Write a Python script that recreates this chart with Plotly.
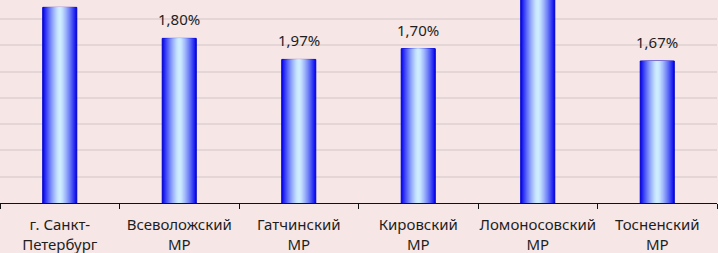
import plotly.graph_objects as go

categories = ["г. Санкт-<br>Петербург", "Всеволожский<br>МР", "Гатчинский<br>МР",
              "Кировский<br>МР", "Ломоносовский<br>МР", "Тосненский<br>МР"]
bar_values = [7.44, 6.26, 5.46, 5.87, 8.6, 5.40]
label_texts = ["", "1,80%", "1,97%", "1,70%", "", "1,67%"]

BG = "#F6E6E6"
GRID = "#E4D6D6"
FONT = "Noto Sans"

dark = (10, 10, 240)
light = (206, 236, 255)
n_layers = 16
full_w = 0.285

fig = go.Figure()
for i in range(n_layers):
    t = i / (n_layers - 1)          # 0 outer -> 1 inner
    w = full_w * (1 - t) + 0.02 * t
    d = 1 - t
    f = d ** 1.3
    col = tuple(round(light[k] + (dark[k] - light[k]) * f) for k in range(3))
    fig.add_trace(go.Bar(
        x=categories, y=bar_values, width=w,
        marker=dict(color="rgb(%d,%d,%d)" % col,
                    line=dict(color="#0000C8", width=1 if i == 0 else 0)),
        hoverinfo="skip", showlegend=False,
    ))

for c, v, s in zip(categories, bar_values, label_texts):
    if s:
        fig.add_annotation(x=c, y=v, text=s, showarrow=False, yanchor="bottom",
                           yshift=7, font=dict(family=FONT, size=15, color="#1E1E1E"))

fig.update_layout(
    width=718, height=253, barmode="overlay",
    margin=dict(l=0, r=1, t=0, b=50, autoexpand=False),
    paper_bgcolor=BG, plot_bgcolor=BG,
    font=dict(family=FONT, size=15, color="#1E1E1E"),
)
fig.update_xaxes(showline=True, linecolor="#111111", linewidth=1,
                 ticks="outside", tickson="boundaries", ticklen=5, tickcolor="#111111",
                 ticklabelstandoff=8, tickangle=0, automargin=False,
                 showgrid=False, tickfont=dict(family=FONT, size=15, color="#1E1E1E"))
fig.update_yaxes(range=[0, 7.72], dtick=1, showgrid=True, gridcolor=GRID, gridwidth=2,
                 showticklabels=False, zeroline=False, showline=False, automargin=False)

fig.write_html("out.html", config={"displayModeBar": False, "staticPlot": True},
               post_script="document.body.style.margin='0';document.body.style.overflow='hidden';")
